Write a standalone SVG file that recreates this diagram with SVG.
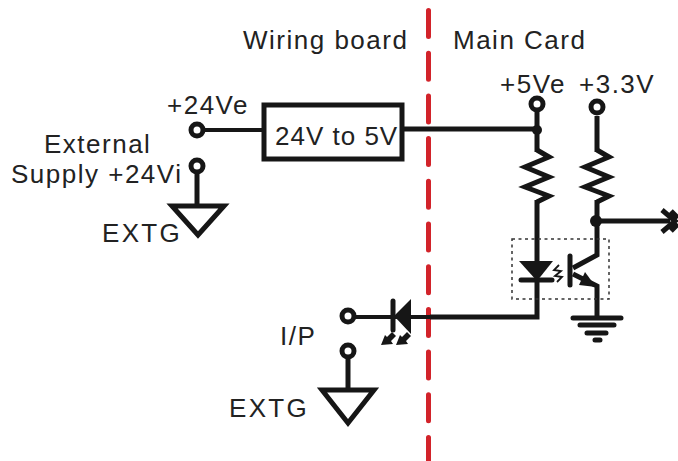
<svg xmlns="http://www.w3.org/2000/svg" width="678" height="461" viewBox="0 0 678 461">
<style>
.w{fill:none;stroke:#161616;stroke-width:5;stroke-linejoin:miter}
.n{fill:none;stroke:#161616;stroke-width:4}
.t{fill:none;stroke:#161616;stroke-width:5;stroke-linecap:round}
.c{fill:#fff;stroke:#161616;stroke-width:5}
.k{fill:#161616}
text{font-family:"Liberation Sans",Arial,sans-serif;font-size:26px;letter-spacing:1.5px;fill:#222}
</style>
<rect width="678" height="461" fill="#fff"/>
<g id="divider"><line x1="428.500" y1="10.500" x2="428.500" y2="461" stroke="#d2232a" stroke-width="5" stroke-dasharray="26 16.700" stroke-linecap="round"/></g>
<g id="connectors">
<path class="n" d="M203 130H264"/>
<path class="w" d="M402 129H537M537 108V152M537 200V268M537 282V317H430"/>
<path class="n" d="M354 317H430"/>
<path class="w" d="M197 172V208"/>
<path class="w" d="M348 356V390"/>
<path class="w" d="M597 116V152M597 200V255L573 268M573 274L597 286V317"/>
<path class="w" d="M596 221H670"/>
</g>
<g id="wiring-board-label"><text x="243" y="49">Wiring board</text></g>
<g id="main-card-label"><text x="453" y="49">Main Card</text></g>
<g id="p24ve"><text x="167" y="114">+24Ve</text><circle class="c" cx="197" cy="130" r="6"/></g>
<g id="supply"><text x="44" y="153">External</text><text x="11" y="183">Supply +24Vi</text><circle class="c" cx="197" cy="166" r="6"/></g>
<g id="extg1"><path class="w" d="M172 206H224L198 235Z"/><text x="102" y="242" style="letter-spacing:2.300px">EXTG</text></g>
<g id="converter"><rect x="264" y="105" width="138" height="54" fill="#fff" stroke="#161616" stroke-width="5"/><text x="275" y="145" style="letter-spacing:1px">24V to 5V</text></g>
<g id="p5ve"><text x="500" y="93">+5Ve</text><circle class="c" cx="537" cy="104" r="6"/><circle class="k" cx="537" cy="130" r="5"/></g>
<g id="p33v"><text x="579" y="93">+3.3V</text><circle class="c" cx="597" cy="107" r="6"/></g>
<g id="r1"><path class="w" d="M537 150L549 157L525 167L549 177L525 187L549 196L537 202"/></g>
<g id="r2"><path class="w" d="M597 150L609 157L585 167L609 177L585 187L609 196L597 202"/></g>
<g id="output"><circle class="k" cx="596" cy="221" r="6"/><path class="w" d="M662 210L675 221L662 232M671 211L678 218M671 231L678 224"/></g>
<g id="optocoupler">
<rect x="512" y="239" width="97" height="60" fill="none" stroke="#333" stroke-width="1.500" stroke-dasharray="3 3.500"/>
<path class="k" d="M519 261H553L537 281Z"/>
<line class="t" x1="521" y1="280" x2="552" y2="280"/>
<line class="t" x1="570" y1="256" x2="570" y2="285"/>
<path class="k" d="M596 287L585 272L579 285Z"/>
<path fill="none" stroke="#161616" stroke-width="1.800" d="M559 265L554 270L561 271L555 276L562 277L557 282"/>
</g>
<g id="ground"><path class="t" d="M573 318H621M580 325H614M587 333H606M595 340H600"/></g>
<g id="led-input">
<circle class="c" cx="348" cy="316" r="6"/>
<line class="t" x1="393" y1="301" x2="393" y2="330"/>
<path class="k" d="M411 299V334L394 316Z"/>
<path class="k" d="M381 345L385 335L387 337L392 332L396 336L391 341L393 344ZM396 345L400 335L402 337L407 332L411 336L406 341L408 344Z"/>
<text x="280" y="345">I/P</text>
</g>
<g id="ip-return"><circle class="c" cx="348" cy="351" r="6"/></g>
<g id="extg2"><path class="w" d="M322 390H374L348 423Z"/><text x="229" y="417" style="letter-spacing:2.300px">EXTG</text></g>
</svg>
